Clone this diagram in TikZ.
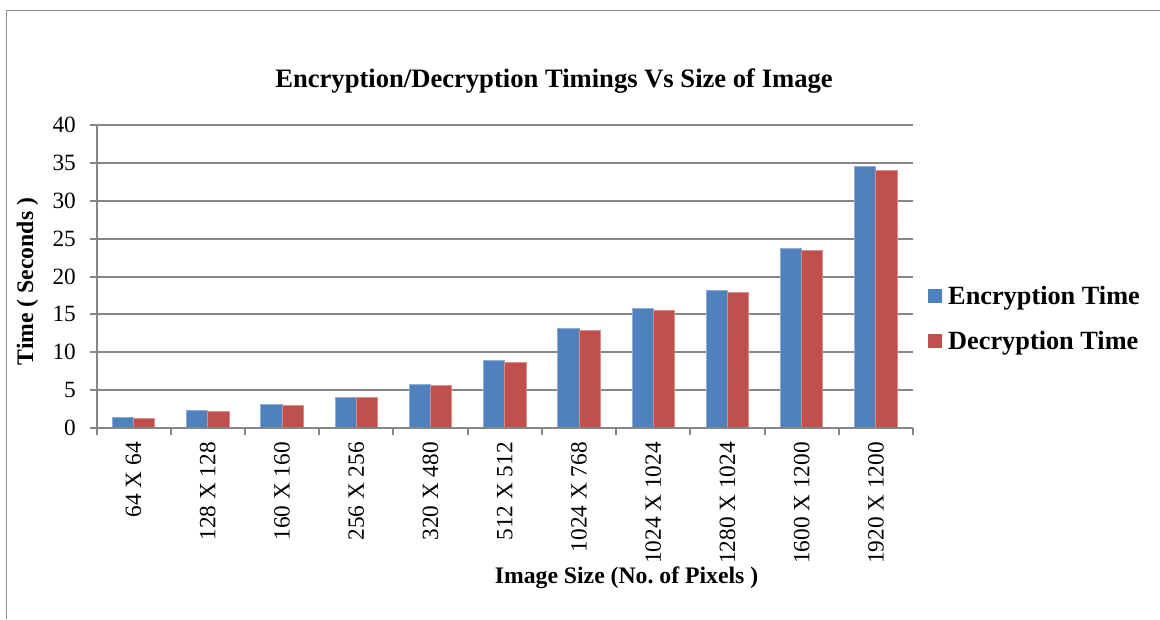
\documentclass[tikz,border=0pt]{standalone}
\usepackage{fontspec}
\setmainfont{Liberation Serif}
\frenchspacing
\definecolor{encblue}{HTML}{4F81BD}
\definecolor{decred}{HTML}{C0504D}
\definecolor{gridgray}{HTML}{868686}
\definecolor{framegray}{HTML}{8C8C8C}
\tikzset{
  gridline/.style={draw=gridgray, line width=2pt},
  axisline/.style={draw=gridgray, line width=2pt},
  encbar/.style={fill=encblue, draw=encblue!65!white, line width=0.8pt},
  decbar/.style={fill=decred, draw=decred!65!white, line width=0.8pt},
  ticklabel/.style={font=\fontsize{23.3}{26}\selectfont, inner sep=0pt, anchor=east},
  catlabel/.style={font=\fontsize{23.3}{26}\selectfont, inner sep=0pt, rotate=90, anchor=east},
  axistitle/.style={font=\bfseries\fontsize{23.7}{27}\selectfont, inner sep=0pt},
  charttitle/.style={font=\bfseries\fontsize{26.6}{30}\selectfont, inner sep=0pt, anchor=base},
  legendtext/.style={font=\bfseries\fontsize{26.3}{30}\selectfont, inner sep=0pt, anchor=base west},
}
\begin{document}
\begin{tikzpicture}[x=1pt,y=-1pt]
\useasboundingbox (0,0) rectangle (1160,619);
\fill[white] (0,0) rectangle (1160,619);
% outer chart frame
\draw[framegray, line width=1.8pt] (6.5,619) -- (6.5,10.5) -- (1160,10.5);

% horizontal gridlines, y ticks and their labels
\foreach \v in {0,5,...,40} {
  \pgfmathsetmacro{\yy}{428-\v*7.575}
  \ifnum\v>0 \draw[gridline] (96.5,\yy) -- (913,\yy); \fi
  \draw[axisline] (90,\yy) -- (96.5,\yy);
  \node[ticklabel] (yl\v) at (76,\yy) {\v};
}

% bars: encryption (blue) and decryption (red) per image size
\foreach \i/\e/\d/\lab in {1/1.35/1.30/64 X 64, 2/2.35/2.25/128 X 128, 3/3.08/2.92/160 X 160,
    4/4.08/4.00/256 X 256, 5/5.75/5.58/320 X 480, 6/8.90/8.68/512 X 512,
    7/13.15/12.92/1024 X 768, 8/15.74/15.48/1024 X 1024, 9/18.13/17.86/1280 X 1024,
    10/23.76/23.41/1600 X 1200, 11/34.57/34.00/1920 X 1200} {
  \pgfmathsetmacro{\xa}{96.5+(\i-1)*74.227+15.9}
  \pgfmathsetmacro{\xb}{\xa+21.2}
  \pgfmathsetmacro{\xc}{\xb+21.2}
  \pgfmathsetmacro{\ye}{428-\e*7.575}
  \pgfmathsetmacro{\yd}{428-\d*7.575}
  \pgfmathsetmacro{\xm}{96.5+(\i-0.5)*74.227}
  \draw[encbar] (\xa,428) rectangle (\xb,\ye);
  \draw[decbar] (\xb,428) rectangle (\xc,\yd);
  \node[catlabel] (cat\i) at (\xm,442) {\lab};
}

% axes
\draw[axisline] (96.5,125) -- (96.5,428);
\draw[axisline] (96.5,428) -- (913,428);
\foreach \k in {0,...,11} {
  \pgfmathsetmacro{\xt}{96.5+\k*74.227}
  \draw[axisline] (\xt,428) -- (\xt,434.5);
}

% titles
\node[charttitle] (title) at (554,87.3) {Encryption/Decryption Timings Vs Size of Image};
\node[axistitle, rotate=90, anchor=base] (ytitle) at (33,281.5) {Time ( Seconds )};
\node[axistitle, anchor=base] (xtitle) at (626.5,583.3) {Image Size (No.\ of Pixels )};

% legend
\fill[encblue] (928,289) rectangle (942,303);
\node[legendtext] (legenc) at (948,304.3) {Encryption Time};
\fill[decred] (928,334) rectangle (942,348);
\node[legendtext] (legdec) at (948,349.3) {Decryption Time};
\end{tikzpicture}
\end{document}
